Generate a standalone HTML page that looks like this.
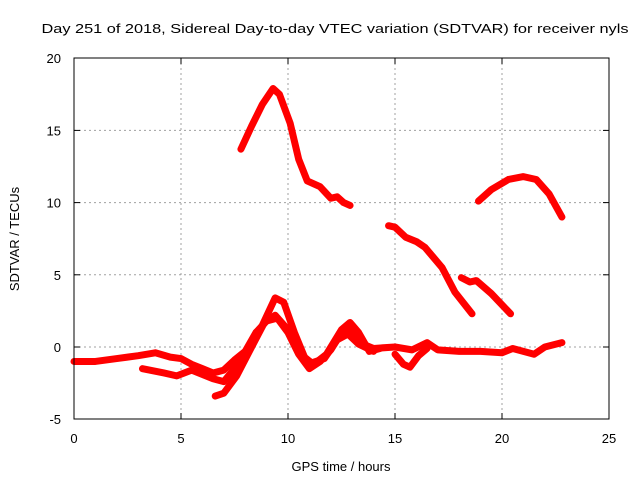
<!DOCTYPE html>
<html><head><meta charset="utf-8"><style>
body{margin:0;background:#fff}
svg text{font-family:"Liberation Sans",sans-serif;font-size:13px;fill:#000}
</style></head><body>
<svg id="chart" width="640" height="480" xmlns="http://www.w3.org/2000/svg">
<text x="335" y="33" text-anchor="middle" textLength="587" lengthAdjust="spacingAndGlyphs">Day 251 of 2018, Sidereal Day-to-day VTEC variation (SDTVAR) for receiver nyls</text>
<text x="341" y="471" text-anchor="middle">GPS time / hours</text>
<text transform="translate(19,239) rotate(-90)" text-anchor="middle">SDTVAR / TECUs</text>
<g id="grid"></g><g id="ticks"></g><g id="series"></g>
<rect x="74" y="58" width="535" height="361" fill="none" stroke="#000" stroke-width="1"/>
</svg>
<script>
const xTicks=[0,5,10,15,20,25];
const yTicks=[-5,0,5,10,15,20];
const s1=[[7.8,13.7],[8.3,15.3],[8.8,16.8],[9.3,17.9],[9.6,17.5],[10.1,15.5],[10.5,13],[10.9,11.5],[11.5,11.1],[12,10.3],[12.3,10.4],[12.6,10],[12.9,9.8]];
const s2=[[14.7,8.4],[15.0,8.3],[15.5,7.6],[16.0,7.3],[16.4,6.9],[17.2,5.5],[17.8,3.8],[18.6,2.3]];
const s3=[[18.1,4.8],[18.5,4.5],[18.8,4.6],[19.5,3.7],[20.4,2.3]];
const s4=[[18.9,10.1],[19.5,10.9],[20.3,11.6],[21,11.8],[21.6,11.6],[22.2,10.6],[22.8,9.0]];
const s5=[[0,-1.0],[1,-1.0],[2,-0.8],[3,-0.6],[3.8,-0.4],[4.5,-0.7],[5,-0.8],[5.5,-1.2],[6,-1.5],[6.5,-1.8],[7,-1.6],[7.5,-0.9],[8,-0.3],[8.5,1.0],[9,1.8],[9.5,2.0],[10,1.0],[10.5,-0.5],[11,-1.5],[11.5,-1.0],[12,-0.2],[12.5,1.0],[13,1.2],[13.5,0.2],[14,-0.1],[15,0],[15.8,-0.2],[16.5,0.3],[17,-0.2],[18,-0.3],[19,-0.3],[20,-0.4],[20.5,-0.1],[21,-0.3],[21.5,-0.5],[22,0],[22.8,0.3]];
const s6=[[3.2,-1.5],[4.2,-1.8],[4.8,-2.0],[5.5,-1.6],[6.5,-2.2],[7,-2.4],[7.5,-1.5],[8.2,-0.2],[8.8,1.5],[9.4,3.4],[9.8,3.1],[10.3,1.0],[10.8,-0.8],[11.2,-1.2],[11.8,-0.5],[12.5,1.2],[12.9,1.7],[13.3,1.0],[13.8,-0.3],[14.3,-0.1]];
const s7=[[6.6,-3.4],[7,-3.2],[7.6,-2.0],[8.3,0],[8.9,1.7],[9.4,2.2],[10,1.2],[10.6,-0.5],[11.1,-1.1],[11.7,-0.8],[12.3,0.5],[12.8,0.9],[13.3,0.2],[14,-0.3]];
const s8=[[15.0,-0.5],[15.4,-1.2],[15.7,-1.4],[16.1,-0.6],[16.5,-0.1]];
const allSeries=[s1,s2,s3,s4,s5,s6,s7,s8];
const NS='http://www.w3.org/2000/svg';
const X=v=>74+v*(535/25);
const Y=v=>347-v*(361/25);
function mk(t,a,p){const e=document.createElementNS(NS,t);for(const k in a)e.setAttribute(k,a[k]);p.appendChild(e);return e;}
const g=document.getElementById('grid'),tk=document.getElementById('ticks'),se=document.getElementById('series');
xTicks.forEach(v=>{
 if(v>0&&v<25){const l=mk('line',{x1:X(v),x2:X(v),y1:58,y2:419,stroke:'#a0a0a0','stroke-dasharray':'2,3'},g);
 
 
 const m1=mk('line',{x1:X(v),x2:X(v),y1:419,y2:413,stroke:'#000'},tk);
 
 
 const m2=mk('line',{x1:X(v),x2:X(v),y1:58,y2:64,stroke:'#000'},tk);
 
 }
 const t=mk('text',{x:X(v),y:443,'text-anchor':'middle'},tk);t.textContent=v;
 
 
});
yTicks.forEach(v=>{
 if(v>-5&&v<20){const l=mk('line',{x1:74,x2:609,y1:Y(v),y2:Y(v),stroke:'#a0a0a0','stroke-dasharray':'2,3'},g);
 
 
 const m1=mk('line',{x1:74,x2:80,y1:Y(v),y2:Y(v),stroke:'#000'},tk);
 
 
 const m2=mk('line',{x1:603,x2:609,y1:Y(v),y2:Y(v),stroke:'#000'},tk);
 
 }
 const t=mk('text',{x:61,y:Y(v)+5,'text-anchor':'end'},tk);t.textContent=v;
 
 
});
allSeries.forEach((s,i)=>{
 const p=mk('polyline',{points:s.map(d=>X(d[0])+','+Y(d[1])).join(' '),fill:'none',stroke:'#ff0000','stroke-width':7,'stroke-linejoin':'round','stroke-linecap':'round'},se);
 
 
});
</script>
</body></html>
